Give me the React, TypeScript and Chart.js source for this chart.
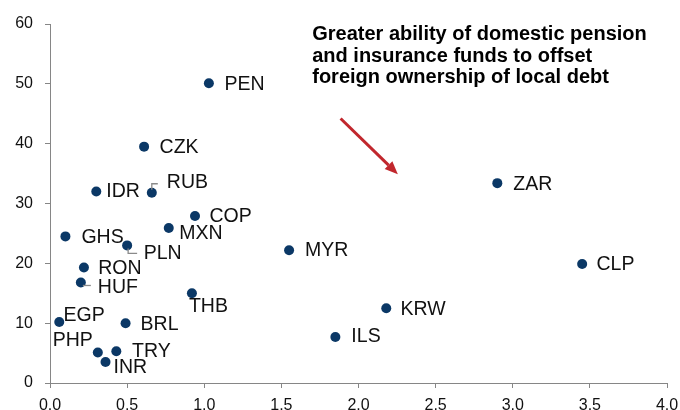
import React, { useEffect, useRef } from "react";
import { Chart, registerables } from "chart.js";

Chart.register(...registerables);

const currencies = ["PEN", "CZK", "IDR", "RUB", "COP", "MXN", "GHS", "PLN", "MYR", "RON", "HUF", "THB", "EGP", "BRL", "PHP", "TRY", "INR", "ZAR", "CLP", "KRW", "ILS"];
const xValues = [1.03, 0.61, 0.30, 0.66, 0.94, 0.77, 0.10, 0.50, 1.55, 0.22, 0.20, 0.92, 0.06, 0.49, 0.31, 0.43, 0.36, 2.90, 3.45, 2.18, 1.85];
const yValues = [50.1, 39.5, 32.0, 31.8, 27.9, 25.9, 24.5, 23.0, 22.2, 19.3, 16.8, 15.0, 10.2, 10.0, 5.1, 5.3, 3.5, 33.4, 19.9, 12.5, 7.7];

const annotationLines = [
  "Greater ability of domestic pension",
  "and insurance funds to offset",
  "foreign ownership of local debt",
];
const annotationAnchor = { x: 1.70, y: 57.3 };
const arrowFrom = { x: 1.884, y: 44.2 };
const arrowTo = { x: 2.255, y: 34.9 };

// label placement (pixels relative to dot): [dx, dy, align]
const labelOffsets: Record<string, [number, number, CanvasTextAlign]> = {
  PEN: [15.5, 1, "left"],
  CZK: [15.5, 1, "left"],
  IDR: [10, 0.5, "left"],
  RUB: [15, -10, "left"],
  COP: [14.5, 1, "left"],
  MXN: [10.5, 5.5, "left"],
  GHS: [16, 1, "left"],
  PLN: [16.5, 8.5, "left"],
  MYR: [16, 0.7, "left"],
  RON: [14.3, 1, "left"],
  HUF: [17, 5.3, "left"],
  THB: [-3, 13, "left"],
  EGP: [4.3, -6.3, "left"],
  BRL: [15, 1.7, "left"],
  PHP: [-5, -11.7, "right"],
  TRY: [15.7, 0.3, "left"],
  INR: [8, 5.3, "left"],
  ZAR: [16, 1, "left"],
  CLP: [14.3, 1, "left"],
  KRW: [14.3, 1, "left"],
  ILS: [16, -0.7, "left"],
};
// leader lines: polyline points relative to dot
const leaders: Record<string, [number, number][]> = {
  RUB: [[0, -3], [0, -9], [6, -9]],
  PLN: [[1, 3], [1, 8], [10, 8]],
  HUF: [[2, 3], [10, 3]],
};

const FONT = "'Liberation Sans', Arial, sans-serif";

const overlayPlugin = {
  id: "overlay",
  afterDatasetsDraw(chart: any) {
    const ctx = chart.ctx as CanvasRenderingContext2D;
    const xs = chart.scales.x;
    const ys = chart.scales.y;
    ctx.save();
    // leader lines
    ctx.strokeStyle = "#8a8a8a";
    ctx.lineWidth = 1.3;
    currencies.forEach((c, i) => {
      const pts = leaders[c];
      if (!pts) return;
      const px = xs.getPixelForValue(xValues[i]);
      const py = ys.getPixelForValue(yValues[i]);
      ctx.beginPath();
      pts.forEach(([dx, dy], k) => {
        if (k === 0) ctx.moveTo(px + dx, py + dy);
        else ctx.lineTo(px + dx, py + dy);
      });
      ctx.stroke();
    });
    // labels
    ctx.fillStyle = "#111111";
    ctx.font = `19.5px ${FONT}`;
    ctx.textBaseline = "middle";
    currencies.forEach((c, i) => {
      const px = xs.getPixelForValue(xValues[i]);
      const py = ys.getPixelForValue(yValues[i]);
      const [dx, dy, align] = labelOffsets[c] || [15, 1, "left"];
      ctx.textAlign = align;
      ctx.fillText(c, px + dx, py + dy);
    });
    // annotation text
    ctx.font = `bold 20px ${FONT}`;
    ctx.textAlign = "left";
    ctx.textBaseline = "alphabetic";
    ctx.fillStyle = "#000000";
    const ax = xs.getPixelForValue(annotationAnchor.x);
    const ay = ys.getPixelForValue(annotationAnchor.y);
    annotationLines.forEach((line, k) => {
      ctx.fillText(line, ax, ay + k * 21.5);
    });
    // arrow
    const x1 = xs.getPixelForValue(arrowFrom.x);
    const y1 = ys.getPixelForValue(arrowFrom.y);
    const x2 = xs.getPixelForValue(arrowTo.x);
    const y2 = ys.getPixelForValue(arrowTo.y);
    const ang = Math.atan2(y2 - y1, x2 - x1);
    const headLen = 13;
    const headW = 5.5;
    const bx = x2 - headLen * Math.cos(ang);
    const by = y2 - headLen * Math.sin(ang);
    ctx.strokeStyle = "#c1272d";
    ctx.fillStyle = "#c1272d";
    ctx.lineWidth = 3;
    ctx.beginPath();
    ctx.moveTo(x1, y1);
    ctx.lineTo(bx, by);
    ctx.stroke();
    ctx.beginPath();
    ctx.moveTo(x2, y2);
    ctx.lineTo(bx + headW * Math.sin(ang), by - headW * Math.cos(ang));
    ctx.lineTo(bx - headW * Math.sin(ang), by + headW * Math.cos(ang));
    ctx.closePath();
    ctx.fill();
    ctx.restore();
  },
};

export default function App() {
  const ref = useRef<HTMLCanvasElement>(null);
  useEffect(() => {
    if (!ref.current) return;
    const chart = new Chart(ref.current, {
      type: "scatter",
      data: {
        datasets: [
          {
            data: xValues.map((x, i) => ({ x, y: yValues[i] })),
            backgroundColor: "#0b3866",
            borderColor: "#0b3866",
            pointRadius: 5,
            pointHoverRadius: 5,
            borderWidth: 0,
          },
        ],
      },
      options: {
        responsive: false,
        animation: false,
        events: [],
        clip: false as any,
        layout: { padding: { top: 24, right: 13, left: 0, bottom: 0 } },
        plugins: { legend: { display: false }, tooltip: { enabled: false }, title: { display: false } },
        scales: {
          x: {
            type: "linear",
            min: 0,
            max: 4,
            afterFit: (s: any) => { s.height = 27; s.paddingRight = 0; s.paddingLeft = 0; },
            ticks: {
              stepSize: 0.5,
              color: "#111111",
              padding: 8,
              font: { family: FONT, size: 16 },
              callback: (v: any) => Number(v).toFixed(1),
            },
            grid: { drawOnChartArea: false, tickLength: 5, color: "#868686" },
            border: { color: "#868686", width: 1 },
          },
          y: {
            type: "linear",
            min: 0,
            max: 60,
            afterFit: (s: any) => { s.width = 50; s.paddingTop = 0; s.paddingBottom = 0; },
            ticks: {
              stepSize: 10,
              color: "#111111",
              padding: 12,
              font: { family: FONT, size: 16 },
            },
            grid: { drawOnChartArea: false, tickLength: 5, color: "#868686" },
            border: { color: "#868686", width: 1 },
          },
        },
      },
      plugins: [overlayPlugin],
    });
    return () => chart.destroy();
  }, []);
  return (
    <div style={{ position: "absolute", left: 0, top: 0, width: 680, height: 410, background: "#fff" }}>
      <canvas ref={ref} width={680} height={410} style={{ width: 680, height: 410, display: "block" }} />
    </div>
  );
}
